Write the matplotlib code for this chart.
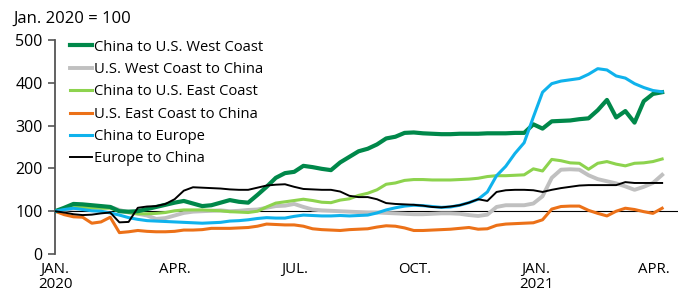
import matplotlib
matplotlib.use('Agg')
import matplotlib.pyplot as plt
import matplotlib.dates as mdates
import pandas as pd

#%%
# weekly freight rate index, Jan. 2020 = 100
dates = pd.date_range('2020-01-01', periods=67, freq='7D')

china_us_west = [100, 108, 117, 116, 114, 112, 110, 100, 99, 100, 105, 110, 115, 120, 124, 118, 112,
                 114, 120, 126, 122, 120, 138, 157, 178, 189, 192, 206, 203, 199, 196, 214, 227, 240,
                 246, 256, 270, 274, 283, 284, 282, 281, 280, 280, 281, 281, 281, 282, 282, 282, 283,
                 283, 303, 293, 310, 311, 312, 315, 317, 336, 360, 319, 334, 307, 357, 374, 378]
us_west_china = [100, 103, 106, 108, 108, 109, 110, 103, 97, 94, 90, 82, 84, 90, 96, 99, 100,
                 101, 102, 100, 101, 103, 104, 108, 112, 113, 117, 110, 104, 102, 101, 100, 99, 98,
                 97, 97, 96, 95, 94, 93, 93, 94, 95, 95, 94, 91, 89, 92, 110, 114, 114,
                 114, 118, 135, 178, 197, 198, 197, 184, 175, 170, 165, 158, 150, 157, 166, 185]
china_us_east = [100, 105, 110, 109, 108, 107, 107, 100, 97, 94, 94, 95, 97, 101, 103, 103, 103,
                 102, 101, 99, 98, 97, 100, 110, 119, 122, 125, 128, 125, 121, 120, 126, 129, 137,
                 142, 150, 163, 166, 172, 174, 174, 173, 173, 173, 174, 175, 177, 181, 183, 183, 184,
                 185, 199, 194, 221, 218, 213, 212, 198, 212, 216, 210, 206, 212, 213, 216, 222]
us_east_china = [100, 92, 87, 86, 72, 75, 86, 50, 52, 55, 53, 52, 52, 53, 56, 56, 57,
                 60, 60, 60, 61, 62, 65, 70, 69, 68, 68, 65, 59, 57, 56, 55, 57, 58,
                 59, 63, 66, 65, 61, 55, 55, 56, 57, 58, 60, 62, 58, 59, 67, 70, 71,
                 72, 73, 80, 105, 111, 112, 112, 102, 95, 89, 100, 107, 104, 99, 95, 107]
china_europe = [100, 104, 107, 104, 101, 100, 96, 91, 85, 81, 78, 77, 76, 75, 74, 73, 72,
                73, 74, 77, 78, 80, 83, 85, 84, 84, 88, 91, 90, 89, 89, 90, 89, 90,
                91, 96, 103, 108, 112, 114, 113, 111, 109, 110, 114, 120, 128, 145, 183, 205, 235,
                260, 320, 378, 398, 404, 407, 410, 420, 433, 430, 416, 411, 398, 389, 382, 379]
europe_china = [100, 97, 93, 91, 92, 95, 97, 74, 75, 108, 111, 112, 117, 128, 148, 156, 155,
                154, 153, 151, 150, 150, 155, 160, 162, 163, 157, 152, 151, 150, 150, 146, 136, 133,
                133, 128, 119, 117, 116, 115, 113, 110, 109, 111, 114, 120, 128, 124, 145, 149, 150,
                150, 149, 145, 150, 154, 157, 160, 161, 161, 161, 161, 168, 166, 166, 166, 166]

tick_dates = pd.to_datetime(['2020-01-01', '2020-04-01', '2020-07-01', '2020-10-01',
                             '2021-01-01', '2021-04-01'])
tick_labels = ['JAN.\n2020', 'APR.', 'JUL.', 'OCT.', 'JAN.\n2021', 'APR.']

#%%
plt.rcParams['font.family'] = ['Open Sans', 'DejaVu Sans']

fig = plt.figure(figsize=(6.86, 2.93), dpi=100)
ax = fig.add_axes([0.0802, 0.133, 0.908, 0.7305])

series = [
    (china_us_west, 'China to U.S. West Coast', '#00884A', 3.0, 4),
    (us_west_china, 'U.S. West Coast to China', '#C0C0C0', 2.8, 2),
    (china_us_east, 'China to U.S. East Coast', '#8DD34E', 2.2, 3),
    (us_east_china, 'U.S. East Coast to China', '#EC7118', 2.2, 3),
    (china_europe, 'China to Europe', '#0FB2EC', 2.2, 5),
    (europe_china, 'Europe to China', '#000000', 1.4, 6),
]
for vals, name, col, lw, z in series:
    ax.plot(dates, vals, color=col, lw=lw, label=name, zorder=z, solid_joinstyle='round')

ax.axhline(100, color='black', lw=0.8, zorder=1)

ax.set_ylim(0, 500)
ax.set_yticks([0, 100, 200, 300, 400, 500])
ax.set_xlim(pd.Timestamp('2020-01-01'), pd.Timestamp('2021-04-19'))
ax.set_xticks(tick_dates)
ax.set_xticklabels(tick_labels, linespacing=0.95)

for s in ['top', 'right', 'bottom']:
    ax.spines[s].set_visible(False)
ax.spines['left'].set_color('#555555')
ax.spines['left'].set_linewidth(1.3)
ax.tick_params(axis='y', length=5, width=1.2, color='#555555', labelsize=11.5, pad=4)
ax.tick_params(axis='x', length=0, labelsize=10.8, pad=6)

ax.legend(loc='upper left', bbox_to_anchor=(0.008, 1.05), frameon=False, fontsize=10.6,
          handlelength=1.5, handletextpad=0.08, labelspacing=0.5, borderaxespad=0.3)

fig.text(0.019, 0.937, 'Jan. 2020 = 100', fontsize=12, ha='left', va='center')

fig.savefig('out.png', dpi=100)
